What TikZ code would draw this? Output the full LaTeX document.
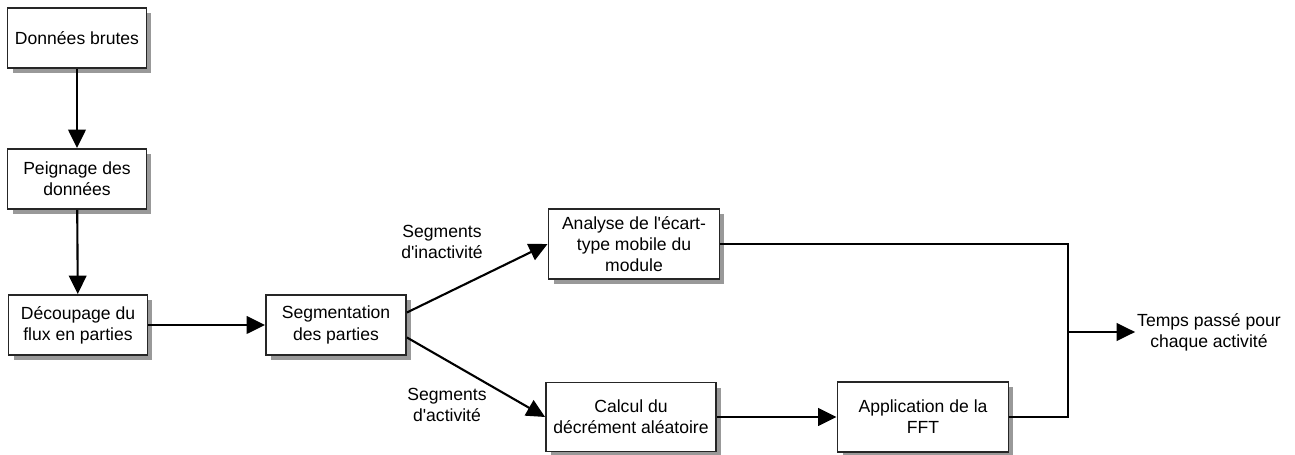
\documentclass[tikz,border=0pt]{standalone}
\usepackage{fontspec}
\setmainfont{Liberation Sans}
\usetikzlibrary{arrows.meta,shadows}

\tikzstyle{bloc} = [draw=black!85, line width=1.1pt, fill=white, align=center, font=\fontsize{10}{12}\selectfont, inner sep=2pt, drop shadow={shadow xshift=0.1cm, shadow yshift=-0.1cm, fill=black!40, opacity=1}]
\tikzstyle{line} = [draw, line width=1.2pt, -{Triangle[length=10.5pt,width=10pt]}]
\tikzstyle{lien} = [draw, line width=1.2pt]
\tikzstyle{etiq} = [align=center, font=\fontsize{10}{12}\selectfont]

\begin{document}
\begin{tikzpicture}[x=0.02cm, y=-0.02cm]
	\useasboundingbox (0,0) rectangle (1295,455);
	% colonne de gauche
	\node [bloc, minimum width=2.78cm, minimum height=1.2cm] (brutes) at (77,38) {Données brutes};
	\node [bloc, minimum width=2.78cm, minimum height=1.2cm] (peignage) at (77,179) {Peignage des\\données};
	\node [bloc, minimum width=2.78cm, minimum height=1.2cm] (decoupage) at (78,325) {Découpage du\\flux en parties};
	\node [bloc, minimum width=2.8cm, minimum height=1.2cm] (segm) at (336,325) {Segmentation\\des parties};
	% les deux branches
	\node [bloc, minimum width=3.42cm, minimum height=1.4cm] (analyse) at (634,244) {Analyse de l\textquotesingle écart-\\type mobile du\\module};
	\node [bloc, minimum width=3.4cm, minimum height=1.38cm] (calcul) at (631,417) {Calcul du\\décrément aléatoire};
	\node [bloc, minimum width=3.42cm, minimum height=1.4cm] (fft) at (923,417) {Application de la\\FFT};
	\node [etiq, inner sep=1pt] (temps) at (1209,332) {Temps passé pour\\chaque activité};
	\node [etiq] (inact) at (442,242) {Segments\\d\textquotesingle inactivité};
	\node [etiq] (act) at (447,405) {Segments\\d\textquotesingle activité};
	\coordinate (jonction) at (1068,332);

	\path [line] (brutes) -- (peignage);
	\path [line] (peignage) -- (decoupage);
	\path [line] (decoupage) -- (segm);
	\path [line] (segm.10) -- (analyse.west);
	\path [line] (segm.-10) -- (calcul.west);
	\path [line] (calcul) -- (fft);
	\path [lien] (analyse.east) -| (jonction); % retour haut
	\path [lien] (fft.east) -| (jonction); % retour bas
	\path [line] (jonction) -- (temps.west);
\end{tikzpicture}
\end{document}
